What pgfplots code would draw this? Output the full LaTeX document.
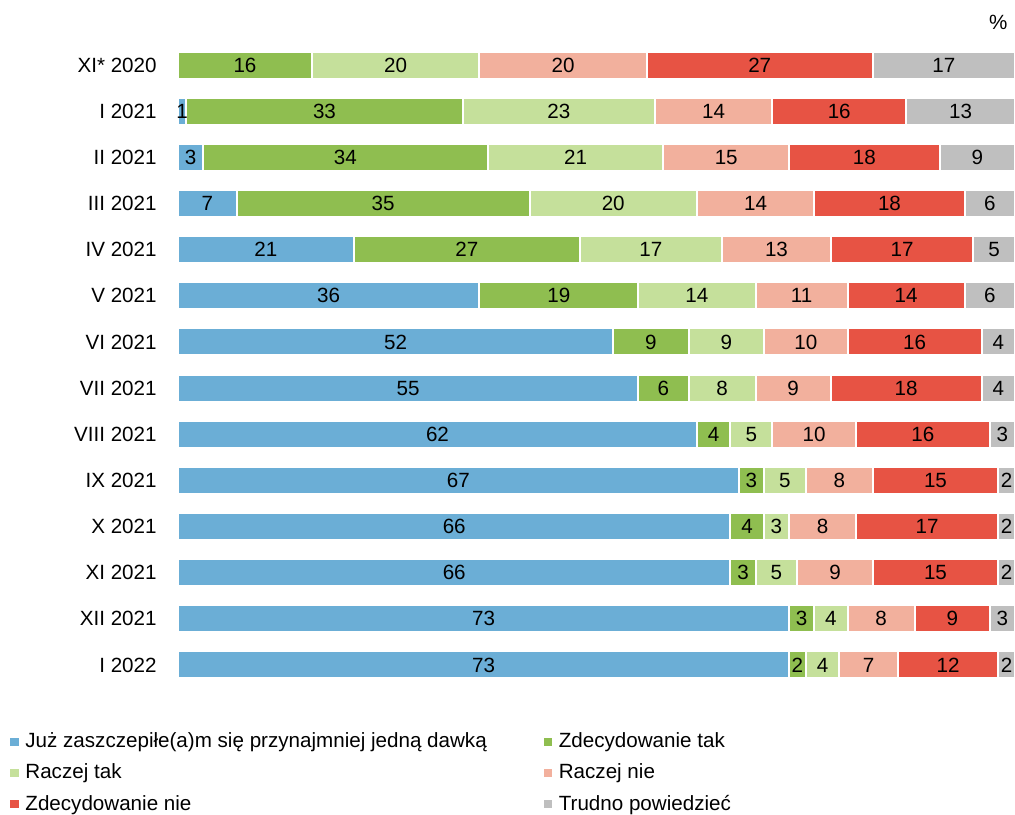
\documentclass[border=0pt]{standalone}
\usepackage{pgfplots}
\usepackage{pgfplotstable}
\pgfplotsset{compat=1.18}
\usepackage{fontspec}
\setmainfont{Liberation Sans}
\definecolor{cA}{HTML}{6BAED6}
\definecolor{cB}{HTML}{8FBE50}
\definecolor{cC}{HTML}{C5E09B}
\definecolor{cD}{HTML}{F2B09D}
\definecolor{cE}{HTML}{E75344}
\definecolor{cF}{HTML}{BFBFBF}
\pgfplotstableread{
y a b c d e f
0 0 16 20 20 27 17
1 1 33 23 14 16 13
2 3 34 21 15 18 9
3 7 35 20 14 18 6
4 21 27 17 13 17 5
5 36 19 14 11 14 6
6 52 9 9 10 16 4
7 55 6 8 9 18 4
8 62 4 5 10 16 3
9 67 3 5 8 15 2
10 66 4 3 8 17 2
11 66 3 5 9 15 2
12 73 3 4 8 9 3
13 73 2 4 7 12 2
}\data
\newcommand\fs{\fontsize{10.3}{12}\selectfont}
\pgfplotsset{
  /pgf/number format/assume math mode=true,
  lbl/.style={
    nodes near coords={\pgfmathfloatifflags{\pgfplotspointmeta}{0}{}{\pgfmathprintnumber{\pgfplotspointmeta}}},
    every node near coord/.append style={anchor=center, text=black, font=\fs, inner sep=0pt},
  },
}
\begin{document}
\begin{tikzpicture}
\useasboundingbox (0,0) rectangle (507.5pt,407pt);
\begin{axis}[
  at={(89pt,63pt)}, anchor=south west,
  scale only axis, width=418.5pt, height=323pt,
  xbar stacked, bar width=13.5pt,
  xmin=0, xmax=100, ymin=-0.5, ymax=13.5, y dir=reverse,
  axis line style={draw=none}, major tick length=0pt,
  xtick=\empty, ytick={0,...,13},
  yticklabels={XI* 2020, I 2021, II 2021, III 2021, IV 2021, V 2021, VI 2021, VII 2021, VIII 2021, IX 2021, X 2021, XI 2021, XII 2021, I 2022},
  yticklabel style={font=\fs, inner sep=0pt, xshift=-10.5pt, text=black},
  clip=false,
  legend columns=2,
  legend cell align=left,
  legend style={at={(-0.2007,-0.0625)}, anchor=north west, draw=none, fill=none, inner sep=0pt,
    font=\fs, row sep=2.6pt,
    /tikz/every even column/.append style={column sep=26.5pt}},
  legend image code/.code={\fill[#1,draw=none] (0pt,-2.1pt) rectangle (4.2pt,2.1pt); \path (5pt,0pt);},
]
\addplot[fill=cA, draw=white, line width=1pt, lbl] table[x=a, y=y] {\data};
\addlegendentry{Już zaszczepiłe(a)m się przynajmniej jedną dawką}
\addplot[fill=cB, draw=white, line width=1pt, lbl] table[x=b, y=y] {\data};
\addlegendentry{Zdecydowanie tak}
\addplot[fill=cC, draw=white, line width=1pt, lbl] table[x=c, y=y] {\data};
\addlegendentry{Raczej tak}
\addplot[fill=cD, draw=white, line width=1pt, lbl] table[x=d, y=y] {\data};
\addlegendentry{Raczej nie}
\addplot[fill=cE, draw=white, line width=1pt, lbl] table[x=e, y=y] {\data};
\addlegendentry{Zdecydowanie nie}
\addplot[fill=cF, draw=white, line width=1pt, lbl] table[x=f, y=y] {\data};
\addlegendentry{Trudno powiedzieć}
\node[font=\fs] at (rel axis cs:0.98,1.031) {\%};
\end{axis}
\end{tikzpicture}
\end{document}
